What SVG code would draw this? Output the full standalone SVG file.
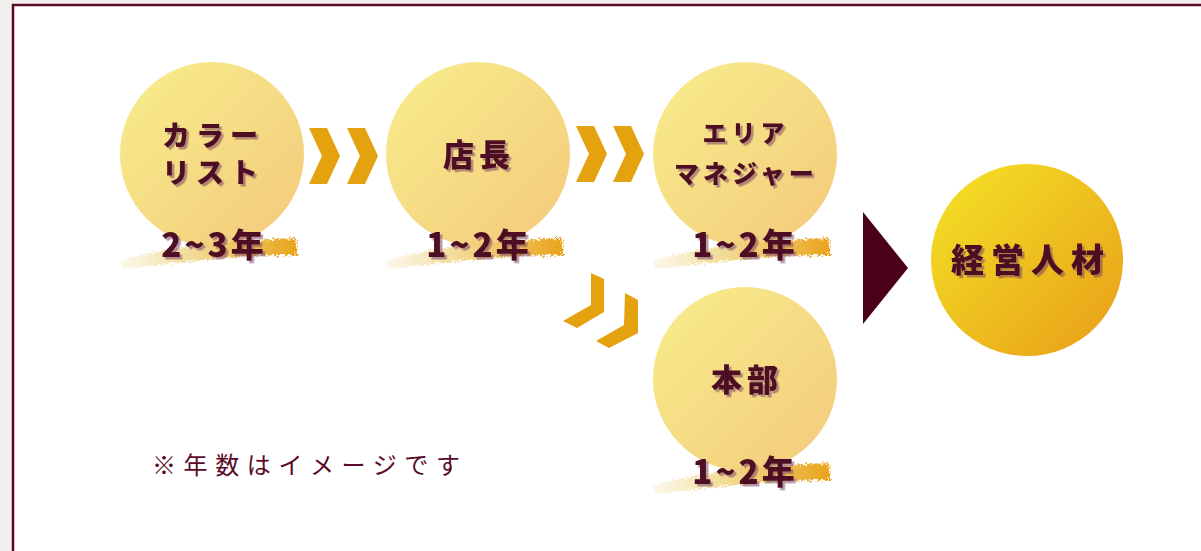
<svg xmlns="http://www.w3.org/2000/svg" width="1201" height="551" viewBox="0 0 1201 551">
<defs>
<style>
.lbl{font-family:"Noto Sans CJK JP","Noto Sans",sans-serif;font-weight:900;fill:#4d0a20;text-anchor:middle;filter:url(#sh)}
.ring{fill:url(#gc)}
.chev{fill:#e5a20f}
.note{font-family:"Noto Sans CJK JP","Noto Sans",sans-serif;font-size:24px;fill:#5a0a28;letter-spacing:7.6px}
</style>
<linearGradient id="gc" x1="0" y1="0" x2="1" y2="1">
<stop offset="0" stop-color="#f8ee8c"/>
<stop offset="1" stop-color="#f3c97c"/>
</linearGradient>
<linearGradient id="gf" x1="0" y1="0" x2="1" y2="1">
<stop offset="0" stop-color="#f4e426"/>
<stop offset="1" stop-color="#e89c18"/>
</linearGradient>
<linearGradient id="gb" x1="0" y1="0" x2="1" y2="0">
<stop offset="0" stop-color="#f4e4b0" stop-opacity="0.3"/>
<stop offset="0.4" stop-color="#efd27a" stop-opacity="0.8"/>
<stop offset="1" stop-color="#e9a21a"/>
</linearGradient>
<filter id="sh" x="-20%" y="-20%" width="140%" height="140%">
<feDropShadow dx="2.5" dy="2.5" stdDeviation="0.6" flood-color="#7a4463" flood-opacity="0.55"/>
</filter>
<filter id="rough" x="-10%" y="-40%" width="120%" height="180%">
<feTurbulence type="fractalNoise" baseFrequency="0.4" numOctaves="2" seed="3"/>
<feDisplacementMap in="SourceGraphic" scale="8"/>
</filter>
<path id="brush" d="M-92,108 C-70,99 -40,95 -10,91 C20,88 50,85 84,84 L85,101 C55,101 20,103 -10,106 C-40,109 -70,113 -90,115 Z"/>
</defs>
<rect width="1201" height="551" fill="#f1f0ec"/>
<rect x="13" y="5" width="1200" height="560" fill="#ffffff" stroke="#5a0a28" stroke-width="2.5"/>

<g id="connectors">
<polygon class="chev" points="309,128 327,128 340,156 327,184 309,184 322,156"/>
<polygon class="chev" points="347,128 365,128 378,156 365,184 347,184 360,156"/>
<polygon class="chev" points="576,126 594,126 607,154 594,182 576,182 589,154"/>
<polygon class="chev" points="613,126 631,126 644,154 631,182 613,182 626,154"/>
<polygon class="chev" points="591,273 604,279 604,312 577,328 563,321 591,305"/>
<polygon class="chev" points="625,293 638,300 638,333 609,348 596,341 624,325"/>
<polygon fill="#4a0018" points="863,212 908,268 863,324"/>
</g>

<g id="node-colorist">
<circle class="ring" cx="212" cy="154" r="92"/>
<use href="#brush" x="212" y="154" fill="url(#gb)" filter="url(#rough)"/>
<text class="lbl" font-size="28" letter-spacing="6"><tspan x="213" y="146">カラー</tspan><tspan x="213" y="183">リスト</tspan></text>
<text class="lbl" x="214" y="257" font-size="33" letter-spacing="3">2~3年</text>
</g>

<g id="node-tencho">
<circle class="ring" cx="478" cy="154" r="92"/>
<use href="#brush" x="478" y="154" fill="url(#gb)" filter="url(#rough)"/>
<text class="lbl" x="479" y="166" font-size="31" letter-spacing="5">店長</text>
<text class="lbl" x="479" y="257" font-size="33" letter-spacing="3">1~2年</text>
</g>

<g id="node-area">
<circle class="ring" cx="745" cy="154" r="92"/>
<use href="#brush" x="745" y="154" fill="url(#gb)" filter="url(#rough)"/>
<text class="lbl" letter-spacing="4"><tspan x="746" y="142" font-size="24" letter-spacing="5">エリア</tspan><tspan x="746" y="183" font-size="25">マネジャー</tspan></text>
<text class="lbl" x="745" y="257" font-size="33" letter-spacing="3">1~2年</text>
</g>

<g id="node-honbu">
<circle class="ring" cx="745" cy="379" r="92"/>
<use href="#brush" x="745" y="379" fill="url(#gb)" filter="url(#rough)"/>
<text class="lbl" x="747" y="391" font-size="31" letter-spacing="5">本部</text>
<text class="lbl" x="745" y="484" font-size="33" letter-spacing="3">1~2年</text>
</g>

<g id="node-keiei">
<circle cx="1027" cy="260" r="96" fill="url(#gf)"/>
<text class="lbl" x="1031" y="272" font-size="33" letter-spacing="7">経営人材</text>
</g>

<text class="note" x="152" y="474">※年数はイメージです</text>
</svg>
